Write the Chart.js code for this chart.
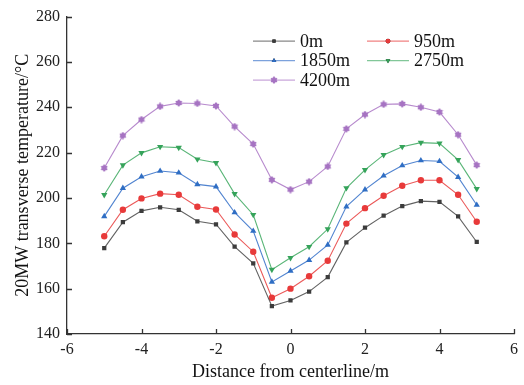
<!DOCTYPE html>
<html>
<head>
<meta charset="utf-8">
<script src="https://cdn.jsdelivr.net/npm/chart.js@4/dist/chart.umd.min.js"></script>
<style>
  html, body { margin: 0; padding: 0; background: #fff; }
  #wrap { width: 524px; height: 385px; }
</style>
</head>
<body>
<div id="wrap"><canvas id="c" width="524" height="385"></canvas></div>
<script>
// Distance from the centerline (m)
const distance = [-5, -4.5, -4, -3.5, -3, -2.5, -2, -1.5, -1, -0.5, 0, 0.5, 1, 1.5, 2, 2.5, 3, 3.5, 4, 4.5, 5];

// Transverse temperature (°C) at each section
const temp0m    = [177.9, 189.3, 194.3, 195.9, 194.8, 189.7, 188.4, 178.5, 171.2, 152.3, 154.8, 158.7, 165.1, 180.4, 186.9, 192.2, 196.4, 198.6, 198.3, 191.9, 180.6];
const temp950m  = [183.1, 194.8, 199.8, 201.9, 201.4, 196.1, 194.9, 183.9, 176.3, 156.0, 160.0, 165.5, 172.3, 188.7, 195.5, 201.0, 205.4, 207.8, 207.8, 201.4, 189.5];
const temp1850m = [191.9, 204.3, 209.4, 211.9, 211.1, 206.0, 205.0, 193.6, 185.4, 163.0, 167.8, 172.6, 179.3, 196.2, 203.7, 209.8, 214.3, 216.5, 216.2, 209.2, 196.9];
const temp2750m = [201.4, 214.5, 219.9, 222.6, 222.2, 217.1, 215.5, 201.8, 192.6, 168.4, 173.6, 178.5, 186.3, 204.4, 212.4, 219.0, 222.6, 224.4, 224.1, 216.8, 204.0];
const temp4200m = [213.2, 227.5, 234.6, 240.4, 241.9, 241.7, 240.6, 231.5, 223.8, 208.0, 203.7, 207.2, 213.9, 230.5, 236.8, 241.3, 241.5, 240.0, 237.9, 227.9, 214.5];

const seriesLabels = ['0m', '950m', '1850m', '2750m', '4200m'];
const xTicks = [-6, -4, -2, 0, 2, 4, 6];
const yTicks = [140, 160, 180, 200, 220, 240, 260, 280];

const SERIF = '"Liberation Serif", "Times New Roman", serif';

// small filled star marker for the last series
function starMarker(color) {
  const c = document.createElement('canvas');
  c.width = 8; c.height = 8;
  const g = c.getContext('2d');
  g.fillStyle = color;
  g.beginPath();
  const n = 6, ro = 3.9, ri = 2.6;
  for (let i = 0; i < n * 2; i++) {
    const r = i % 2 ? ri : ro;
    const a = -Math.PI / 2 + i * Math.PI / n;
    const px = 4 + r * Math.cos(a), py = 4 + r * Math.sin(a);
    i ? g.lineTo(px, py) : g.moveTo(px, py);
  }
  g.closePath();
  g.fill();
  return c;
}

const styles = [
  { line: 'rgba(70,70,70,0.85)',   point: '#3c3c3c', pointStyle: 'rect',     radius: 3,   rot: 0 },
  { line: 'rgba(232,60,60,0.85)',  point: '#e83a3a', pointStyle: 'circle',   radius: 3.2, rot: 0 },
  { line: 'rgba(50,110,200,0.85)', point: '#2f6ec4', pointStyle: 'triangle', radius: 3.6, rot: 0 },
  { line: 'rgba(60,168,95,0.85)',  point: '#35a35a', pointStyle: 'triangle', radius: 3.6, rot: 180 },
  { line: 'rgba(175,125,200,0.9)', point: '#a673c2', pointStyle: null,       radius: 4,   rot: 0 }
];
styles[4].pointStyle = starMarker(styles[4].point);

const values = [temp0m, temp950m, temp1850m, temp2750m, temp4200m];
const datasets = values.map((vals, i) => ({
  label: seriesLabels[i],
  data: distance.map((d, j) => ({ x: d, y: vals[j] })),
  borderColor: styles[i].line,
  backgroundColor: styles[i].point,
  pointBackgroundColor: styles[i].point,
  pointBorderColor: styles[i].point,
  pointBorderWidth: 0,
  borderWidth: 1.1,
  pointStyle: styles[i].pointStyle,
  pointRadius: styles[i].radius,
  pointRotation: styles[i].rot,
  tension: 0
}));

// short tick marks pointing into the plot area
const innerTicks = {
  id: 'innerTicks',
  afterDatasetsDraw(chart) {
    const { ctx, chartArea } = chart;
    const xs = chart.scales.x, ys = chart.scales.y;
    ctx.save();
    ctx.strokeStyle = '#333';
    ctx.lineWidth = 1.3;
    ctx.beginPath();
    xs.ticks.forEach(t => {
      const px = Math.round(xs.getPixelForValue(t.value)) + 0.5;
      ctx.moveTo(px, chartArea.bottom);
      ctx.lineTo(px, chartArea.bottom - 5);
    });
    ys.ticks.forEach(t => {
      const py = Math.round(ys.getPixelForValue(t.value)) + 0.5;
      ctx.moveTo(chartArea.left, py);
      ctx.lineTo(chartArea.left + 5, py);
    });
    ctx.stroke();
    ctx.restore();
  }
};

// two-column legend in the upper part of the plot
const boxLegend = {
  id: 'boxLegend',
  afterDraw(chart) {
    const { ctx, chartArea } = chart;
    const x0 = chartArea.left + 186, colW = 114, y0 = chartArea.top + 24, rowH = 19.5;
    ctx.save();
    ctx.font = '18px ' + SERIF;
    ctx.textBaseline = 'middle';
    chart.data.datasets.forEach((ds, i) => {
      const col = i % 2, row = Math.floor(i / 2);
      const lx = x0 + col * colW, ly = y0 + row * rowH;
      const s = styles[i];
      ctx.strokeStyle = s.line;
      ctx.globalAlpha = 0.75;
      ctx.lineWidth = 1.2;
      ctx.beginPath();
      ctx.moveTo(lx, ly + 0.5);
      ctx.lineTo(lx + 42, ly + 0.5);
      ctx.stroke();
      ctx.globalAlpha = 1;
      Chart.helpers.drawPoint(ctx, {
        pointStyle: s.pointStyle,
        radius: s.radius * 0.75,
        rotation: s.rot,
        borderWidth: 0
      }, lx + 21, ly + 0.5);
      ctx.fillStyle = s.point;
      ctx.fill();
      ctx.fillStyle = '#111';
      ctx.fillText(ds.label, lx + 47, ly + 1.5);
    });
    ctx.restore();
  }
};

new Chart(document.getElementById('c'), {
  type: 'line',
  data: { datasets },
  plugins: [innerTicks, boxLegend],
  options: {
    responsive: false,
    animation: false,
    layout: { padding: { top: 14, right: 9, left: 0, bottom: 0 } },
    plugins: { legend: { display: false }, tooltip: { enabled: false } },
    scales: {
      x: {
        type: 'linear',
        min: -6, max: 6,
        afterBuildTicks: s => { s.ticks = xTicks.map(v => ({ value: v })); },
        afterFit: s => { s.height = 51; },
        grid: { display: false, drawTicks: false },
        border: { display: true, color: '#333', width: 1.3 },
        ticks: { padding: 6, color: '#222', font: { family: SERIF, size: 16 } },
        title: {
          display: true,
          text: 'Distance from centerline/m',
          color: '#111',
          font: { family: SERIF, size: 18 },
          padding: { top: 0, bottom: 2 }
        }
      },
      y: {
        type: 'linear',
        min: 140, max: 280,
        afterBuildTicks: s => { s.ticks = yTicks.map(v => ({ value: v })); },
        afterFit: s => { s.width = 67; },
        grid: { display: false, drawTicks: false },
        border: { display: true, color: '#333', width: 1.3 },
        ticks: { padding: 7, color: '#222', font: { family: SERIF, size: 16 } },
        title: {
          display: true,
          text: '20MW transverse temperature/°C',
          color: '#111',
          font: { family: SERIF, size: 18 },
          padding: { top: 12, bottom: 0 }
        }
      }
    }
  }
});
</script>
</body>
</html>
